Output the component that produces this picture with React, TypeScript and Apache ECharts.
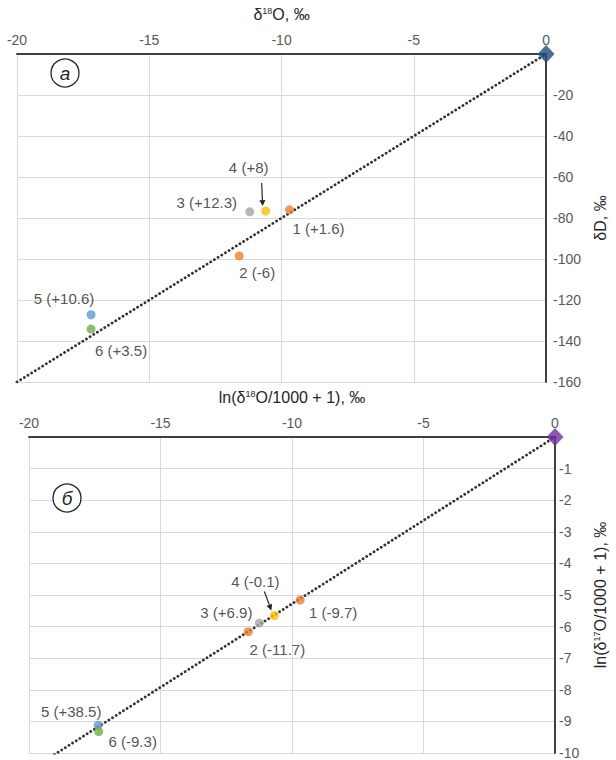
import React, { useEffect, useRef } from 'react';
import * as echarts from 'echarts';

// ---------- data ----------
const pointIds = ['1', '2', '3', '4', '5', '6'];
const pointColors = ['#ED7D31', '#ED7D31', '#A5A5A5', '#FFC000', '#5B9BD5', '#70AD47'];

// panel а : δ18O vs δD
const d18O = [-9.7, -11.6, -11.2, -10.6, -17.2, -17.2];
const dD = [-76.0, -98.5, -77.0, -76.6, -127.2, -134.2];
const dExcess = ['+1.6', '-6', '+12.3', '+8', '+10.6', '+3.5'];
const mwlA = [[-20, -160], [0, 0]];

// panel б : ln(δ18O/1000+1) vs ln(δ17O/1000+1)
const ln18O = [-9.69, -11.66, -11.24, -10.67, -17.37, -17.35];
const ln17O = [-5.16, -6.16, -5.89, -5.65, -9.12, -9.32];
const excess17 = ['-9.7', '-11.7', '+6.9', '-0.1', '+38.5', '-9.3'];
const mwlB = [[-20, -10.56], [0, 0]];

const xTicksMin = -20;
const xTicksMax = 0;

// ---------- styles ----------
const FONT = '"Liberation Sans", Arial, sans-serif';
const labelOffsetsA = [[29, 19], [18, 17], [-43, -9], [-17, -44], [-27, -16], [30, 21]];
const labelOffsetsB = [[33, 12], [29, 18], [-33, -11], [-19, -34], [-27, -14], [34, 10]];

function scatterData(xs: number[], ys: number[], tags: string[], offs: number[][]) {
  return xs.map((x, i) => ({
    value: [x, ys[i]],
    itemStyle: { color: pointColors[i] },
    label: {
      show: true,
      position: 'inside',
      offset: offs[i],
      formatter: `${pointIds[i]} (${tags[i]})`,
      color: '#262626',
      fontSize: 15,
      fontFamily: FONT,
    },
  }));
}

function xAxis(gridIndex: number, name: string) {
  return {
    type: 'value',
    gridIndex,
    position: 'top',
    min: xTicksMin,
    max: xTicksMax,
    interval: 5,
    name,
    nameLocation: 'middle',
    nameGap: 32,
    nameTextStyle: {
      rich: {
        t: { fontSize: 16, color: '#262626', fontFamily: FONT },
        s: { fontSize: 9, color: '#262626', fontFamily: FONT, padding: [0, 0, 7, 0] },
      },
    },
    axisLine: { show: true, onZero: false, lineStyle: { color: '#404040', width: 2 } },
    axisTick: { show: false },
    axisLabel: { color: '#595959', fontSize: 14, margin: 7, fontFamily: FONT },
    splitLine: { show: true, lineStyle: { color: '#D9D9D9', width: 1 } },
  };
}

function yAxis(gridIndex: number, name: string, min: number, interval: number, nameGap: number, margin: number) {
  return {
    type: 'value',
    gridIndex,
    position: 'right',
    min,
    max: 0,
    interval,
    name,
    nameLocation: 'middle',
    nameRotate: 90,
    nameGap,
    nameTextStyle: {
      rich: {
        t: { fontSize: 16, color: '#262626', fontFamily: FONT },
        s: { fontSize: 9, color: '#262626', fontFamily: FONT, padding: [0, 0, 7, 0] },
      },
    },
    axisLine: { show: true, onZero: false, lineStyle: { color: '#404040', width: 2 } },
    axisTick: { show: false },
    axisLabel: {
      color: '#595959',
      fontSize: 14,
      margin,
      fontFamily: FONT,
      formatter: (v: number) => (v === 0 ? '' : String(v)),
    },
    splitLine: { show: true, lineStyle: { color: '#D9D9D9', width: 1 } },
  };
}

function mwlSeries(idx: number, data: number[][]) {
  return {
    type: 'line',
    xAxisIndex: idx,
    yAxisIndex: idx,
    data,
    symbol: 'none',
    clip: true,
    z: 2,
    lineStyle: { color: '#333333', width: 2.8, type: [0.1, 4.2], cap: 'round' },
  };
}

function originSeries(idx: number, color: string) {
  return {
    type: 'scatter',
    xAxisIndex: idx,
    yAxisIndex: idx,
    data: [[0, 0]],
    symbol: 'diamond',
    symbolSize: [17, 18],
    itemStyle: { color },
    z: 5,
  };
}

function arrowGraphic(from: number[], to: number[]) {
  const dx = to[0] - from[0];
  const dy = to[1] - from[1];
  const len = Math.sqrt(dx * dx + dy * dy);
  const ux = dx / len;
  const uy = dy / len;
  const hl = 6;
  const hw = 3;
  const bx = to[0] - ux * hl;
  const by = to[1] - uy * hl;
  return [
    {
      type: 'line',
      shape: { x1: from[0], y1: from[1], x2: bx, y2: by },
      style: { stroke: '#262626', lineWidth: 1.2 },
      z: 10,
    },
    {
      type: 'polygon',
      shape: {
        points: [
          [to[0], to[1]],
          [bx - uy * hw, by + ux * hw],
          [bx + uy * hw, by - ux * hw],
        ],
      },
      style: { fill: '#262626' },
      z: 10,
    },
  ];
}

function circleLetter(cx: number, cy: number, letter: string) {
  return [
    {
      type: 'circle',
      shape: { cx, cy, r: 14 },
      style: { fill: '#fff', stroke: '#262626', lineWidth: 1.3 },
      z: 10,
    },
    {
      type: 'text',
      x: cx,
      y: cy,
      style: {
        text: letter,
        fill: '#262626',
        font: `italic 19px ${FONT}`,
        align: 'center',
        verticalAlign: 'middle',
      },
      z: 11,
    },
  ];
}

export default function App() {
  const ref = useRef<HTMLDivElement>(null);
  useEffect(() => {
    if (!ref.current) return;
    const chart = echarts.init(ref.current, undefined, { renderer: 'svg' });
    const option: any = {
      animation: false,
      backgroundColor: '#ffffff',
      grid: [
        { left: 17, right: 51, top: 54, height: 328 },
        { left: 29, right: 55, top: 437, height: 316 },
      ],
      xAxis: [xAxis(0, '{t|δ}{s|18}{t|O, ‰}'), xAxis(1, '{t|ln(δ}{s|18}{t|O/1000 + 1), ‰}')],
      yAxis: [
        yAxis(0, '{t|δD, ‰}', -160, 20, 43, 7),
        yAxis(1, '{t|ln(δ}{s|17}{t|O/1000 + 1), ‰}', -10, 1, 37, 4),
      ],
      series: [
        mwlSeries(0, mwlA),
        originSeries(0, '#1F4E79'),
        {
          type: 'scatter',
          xAxisIndex: 0,
          yAxisIndex: 0,
          symbolSize: 9,
          z: 4,
          data: scatterData(d18O, dD, dExcess, labelOffsetsA),
        },
        mwlSeries(1, mwlB),
        originSeries(1, '#7030A0'),
        {
          type: 'scatter',
          xAxisIndex: 1,
          yAxisIndex: 1,
          symbolSize: 9,
          z: 4,
          data: scatterData(ln18O, ln17O, excess17, labelOffsetsB),
        },
      ],
    };
    chart.setOption(option);

    const p4a = chart.convertToPixel({ gridIndex: 0 }, [d18O[3], dD[3]]) as number[];
    const p4b = chart.convertToPixel({ gridIndex: 1 }, [ln18O[3], ln17O[3]]) as number[];
    const graphics = [
      ...circleLetter(65, 73, 'а'),
      ...circleLetter(67, 498, 'б'),
      ...arrowGraphic([p4a[0] - 4, p4a[1] - 28], [p4a[0] - 3, p4a[1] - 5]),
      ...arrowGraphic([p4b[0] - 10, p4b[1] - 24], [p4b[0] - 3, p4b[1] - 5]),
    ];
    chart.setOption({ graphic: graphics });

    return () => chart.dispose();
  }, []);
  return (
    <div
      ref={ref}
      style={{ position: 'absolute', left: 0, top: 0, width: 616, height: 760, background: '#fff' }}
    />
  );
}
